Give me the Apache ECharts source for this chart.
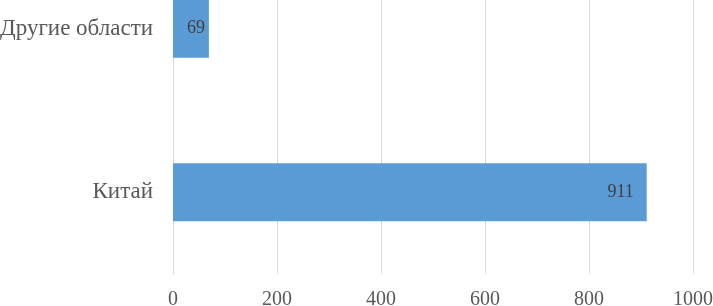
<!DOCTYPE html>
<html><head><meta charset="utf-8">
<script src="https://cdn.jsdelivr.net/npm/echarts@6/dist/echarts.min.js"></script>
<style>html,body{margin:0;padding:0;background:#fff;overflow:hidden}
#wrap{position:relative;width:713px;height:306px;overflow:hidden}
#c{position:absolute;left:0;top:-53px;width:713px;height:359px}</style>
</head><body><div id="wrap"><div id="c"></div></div>
<script>
var categories = ['Китай', 'Другие области'];
var values = [911, 69];
var tickMin = 0, tickMax = 1000, tickStep = 200;

var labelDistance = [13, 4];
var seriesData = values.map(function (v, i) {
  return { value: v, label: { distance: labelDistance[i] } };
});

var chart = echarts.init(document.getElementById('c'));
chart.setOption({
  animation: false,
  grid: { left: 173, right: 20, top: 0, bottom: 32, containLabel: false, outerBoundsMode: 'none' },
  xAxis: {
    type: 'value', min: tickMin, max: tickMax, interval: tickStep,
    axisLine: { show: false }, axisTick: { show: false },
    splitLine: { lineStyle: { color: '#d9d9d9', width: 1 } },
    axisLabel: { color: '#595959', fontFamily: 'Liberation Serif', fontSize: 20, margin: 16,
      formatter: function (v) { return String(v); } }
  },
  yAxis: {
    type: 'category', data: categories,
    axisLine: { show: true, lineStyle: { color: '#d9d9d9' } }, axisTick: { show: false },
    axisLabel: { color: '#595959', fontFamily: 'Liberation Serif', fontSize: 23, margin: 20 }
  },
  series: [{
    type: 'bar', data: seriesData, barCategoryGap: '64.5%',
    itemStyle: { color: '#5b9bd5' },
    label: { show: true, position: 'insideRight', color: '#404040', fontFamily: 'Liberation Serif', fontSize: 18 }
  }]
});
</script></body></html>
